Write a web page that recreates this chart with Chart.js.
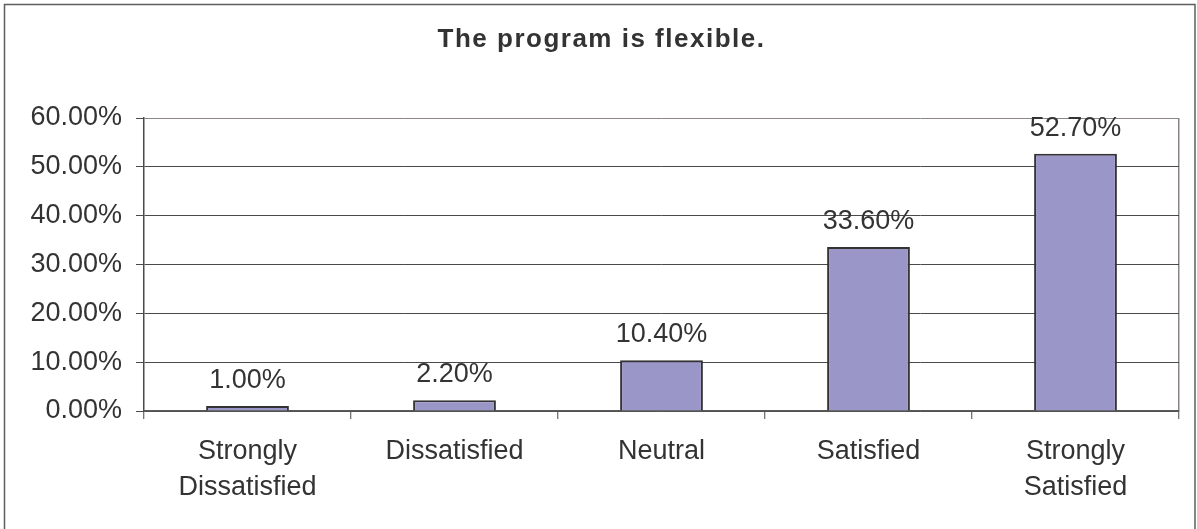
<!DOCTYPE html>
<html>
<head>
<meta charset="utf-8">
<script src="https://cdn.jsdelivr.net/npm/chart.js@4.4.1/dist/chart.umd.min.js"></script>
<style>
html,body{margin:0;padding:0;background:#fff;}
#wrap{width:1197px;height:529px;position:relative;}
canvas{display:block;}
</style>
</head>
<body>
<div id="wrap"><canvas id="c" width="1197" height="529"></canvas></div>
<script>
// ---- data ----
const chartTitle = 'The program is flexible.';
const categories = [['Strongly', 'Dissatisfied'], 'Dissatisfied', 'Neutral', 'Satisfied', ['Strongly', 'Satisfied']];
const values = [1.0, 2.2, 10.4, 33.6, 52.7];
const yMin = 0;
const yMax = 60;
const yStep = 10;

// ---- styles ----
const FONT = "'Liberation Sans', Arial, Helvetica, sans-serif";
const TEXT = '#333333';
const GRID = '#4a4a4a';
const FRAME = '#8c8585';

const fmtPct = v => Number(v).toFixed(2) + '%';

const framePlugin = {
  id: 'frame',
  beforeDraw(chart) {
    const tb = chart.titleBlock;
    if (tb && !tb._lsPatched) {
      const orig = tb.draw.bind(tb);
      tb.draw = function (area) {
        const ctx = chart.ctx;
        ctx.save();
        ctx.letterSpacing = '1.5px';
        ctx.translate(12, 2);
        orig(area);
        ctx.restore();
      };
      tb._lsPatched = true;
    }
    const ctx = chart.ctx;
    ctx.save();
    ctx.fillStyle = '#ffffff';
    ctx.fillRect(0, 0, chart.width, chart.height);
    ctx.strokeStyle = '#5e5e5e';
    ctx.lineWidth = 1.5;
    ctx.strokeRect(4.5, 4.5, 1190.5, chart.height + 20);
    ctx.restore();
  }
};

const valueLabels = {
  id: 'valueLabels',
  afterDatasetsDraw(chart) {
    const ctx = chart.ctx;
    const meta = chart.getDatasetMeta(0);
    ctx.save();
    ctx.font = '27px ' + FONT;
    ctx.fillStyle = TEXT;
    ctx.textAlign = 'center';
    ctx.textBaseline = 'alphabetic';
    meta.data.forEach((bar, i) => {
      ctx.fillText(fmtPct(chart.data.datasets[0].data[i]), bar.x, bar.y - 18);
    });
    ctx.restore();
  }
};

new Chart(document.getElementById('c'), {
  type: 'bar',
  data: {
    labels: categories,
    datasets: [{
      data: values,
      backgroundColor: '#9b96c8',
      borderColor: '#333333',
      borderWidth: 2,
      barPercentage: 0.4,
      categoryPercentage: 1.0
    }]
  },
  options: {
    responsive: false,
    animation: false,
    layout: { padding: { left: 0, right: 18, top: 0, bottom: 0 } },
    plugins: {
      legend: { display: false },
      tooltip: { enabled: false },
      title: {
        display: true,
        text: chartTitle,
        color: TEXT,
        font: { family: FONT, size: 26, weight: 'bold', lineHeight: 1.2 },
        padding: { top: 22, bottom: 64.8 }
      }
    },
    scales: {
      x: {
        offset: true,
        ticks: {
          color: TEXT,
          font: { family: FONT, size: 27, lineHeight: 1.32 },
          padding: 15,
          maxRotation: 0,
          autoSkip: false
        },
        grid: {
          offset: true,
          drawOnChartArea: true,
          color: ctx => (ctx.index === undefined ? FRAME : 'rgba(0,0,0,0)'),
          lineWidth: 1.5,
          tickLength: 8,
          tickColor: GRID,
          tickWidth: 1
        },
        border: { color: '#5a5a5a', width: 1.5 },
        afterFit: s => { s.height = 118; }
      },
      y: {
        min: yMin,
        max: yMax,
        ticks: {
          stepSize: yStep,
          callback: v => fmtPct(v),
          color: TEXT,
          font: { family: FONT, size: 27 },
          padding: 14
        },
        grid: {
          color: ctx => (ctx.tick && ctx.tick.value === yMax ? FRAME : GRID),
          lineWidth: 1,
          tickLength: 8,
          tickColor: GRID
        },
        border: { color: GRID, width: 1.5 },
        afterFit: s => { s.width = 144; }
      }
    }
  },
  plugins: [framePlugin, valueLabels]
});
</script>
</body>
</html>
